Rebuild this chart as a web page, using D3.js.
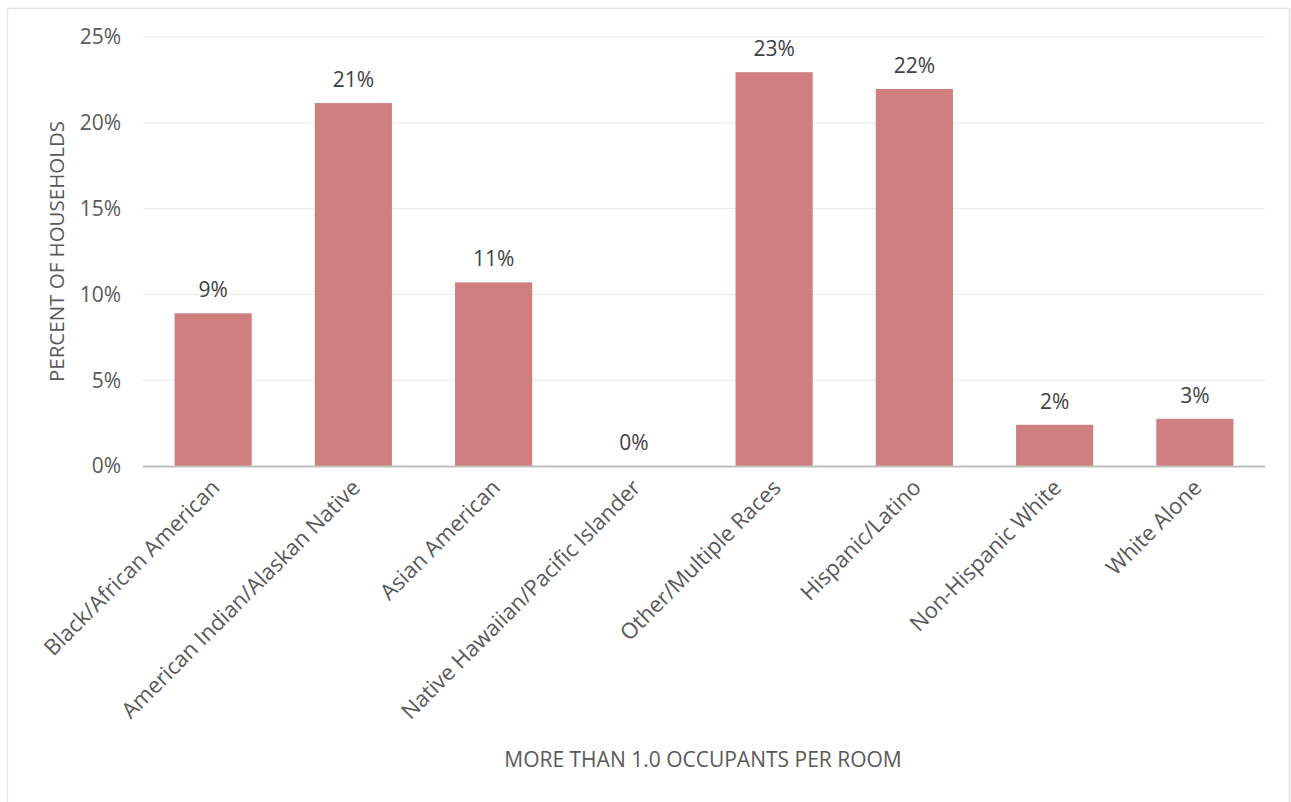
<!DOCTYPE html>
<html>
<head>
<meta charset="utf-8">
<script src="https://cdn.jsdelivr.net/npm/d3@7"></script>
<style>
  body { margin: 0; background: #fff; }
  text { font-family: "Open Sans", "Noto Sans", sans-serif; }
</style>
</head>
<body>
<svg id="chart" width="1291" height="802"></svg>
<script>
const categories = [
    "Black/African American",
    "American Indian/Alaskan Native",
    "Asian American",
    "Native Hawaiian/Pacific Islander",
    "Other/Multiple Races",
    "Hispanic/Latino",
    "Non-Hispanic White",
    "White Alone"
];
const values = [8.9, 21.15, 10.7, 0, 22.95, 21.97, 2.4, 2.75];
const valueLabels = ["9%", "21%", "11%", "0%", "23%", "22%", "2%", "3%"];
const yTicks = [0, 5, 10, 15, 20, 25];

const svg = d3.select("#chart");

// outer frame
svg.append("rect")
    .attr("x", 7.5).attr("y", 8.5)
    .attr("width", 1282).attr("height", 800)
    .attr("fill", "none")
    .attr("stroke", "#e3e3e3")
    .attr("stroke-width", 1.5);

const plotLeft = 143, plotRight = 1265, plotTop = 37, plotBottom = 466;

const x = d3.scaleBand()
    .domain(categories)
    .range([plotLeft, plotRight])
    .paddingInner(0.45)
    .paddingOuter(0.225);

const y = d3.scaleLinear()
    .domain([0, 25])
    .range([plotBottom, plotTop]);

// gridlines
svg.selectAll(".grid")
    .data(yTicks.filter(d => d > 0))
    .join("line")
    .attr("class", "grid")
    .attr("x1", plotLeft).attr("x2", plotRight)
    .attr("y1", d => y(d)).attr("y2", d => y(d))
    .attr("stroke", "#e8e8e8")
    .attr("stroke-width", 1);

// y tick labels
svg.selectAll(".ytick")
    .data(yTicks)
    .join("text")
    .attr("class", "ytick")
    .attr("x", 121)
    .attr("y", d => y(d))
    .attr("dy", "0.35em")
    .attr("text-anchor", "end")
    .attr("fill", "#595959")
    .style("font-size", "21px")
    .text(d => d + "%");

// bars
svg.selectAll(".bar")
    .data(values)
    .join("rect")
    .attr("class", "bar")
    .attr("x", (d, i) => x(categories[i]))
    .attr("y", d => y(d))
    .attr("width", x.bandwidth())
    .attr("height", d => plotBottom - y(d))
    .attr("fill", "#cf7f7f");

// value labels
svg.selectAll(".vlabel")
    .data(values)
    .join("text")
    .attr("class", "vlabel")
    .attr("x", (d, i) => x(categories[i]) + x.bandwidth() / 2)
    .attr("y", d => y(d) - 16)
    .attr("text-anchor", "middle")
    .attr("fill", "#404040")
    .style("font-size", "21px")
    .text((d, i) => valueLabels[i]);

// x axis line
svg.append("line")
    .attr("x1", plotLeft).attr("x2", plotRight)
    .attr("y1", plotBottom + 0.5).attr("y2", plotBottom + 0.5)
    .attr("stroke", "#bfbfbf")
    .attr("stroke-width", 2);

// category labels
svg.selectAll(".xlabel")
    .data(categories)
    .join("text")
    .attr("class", "xlabel")
    .attr("transform", d => `translate(${x(d) + x.bandwidth() / 2 + 8},${plotBottom + 23}) rotate(-45)`)
    .attr("text-anchor", "end")
    .attr("fill", "#595959")
    .style("font-size", "22px")
    .text(d => d);

// axis titles
svg.append("text")
    .attr("transform", `translate(64,${(plotTop + plotBottom) / 2}) rotate(-90)`)
    .attr("text-anchor", "middle")
    .attr("fill", "#595959")
    .style("font-size", "20.5px")
    .text("PERCENT OF HOUSEHOLDS");

svg.append("text")
    .attr("x", 703)
    .attr("y", 767)
    .attr("text-anchor", "middle")
    .attr("fill", "#595959")
    .style("font-size", "21px")
    .text("MORE THAN 1.0 OCCUPANTS PER ROOM");
</script>
</body>
</html>
